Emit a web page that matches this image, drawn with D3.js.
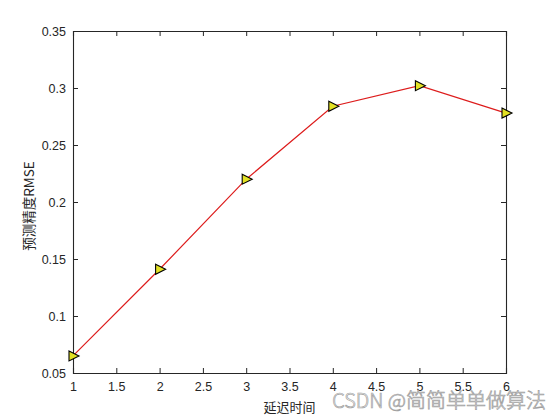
<!DOCTYPE html>
<html>
<head>
<meta charset="utf-8">
<script src="https://cdn.jsdelivr.net/npm/d3@7"></script>
<style>
  body { margin: 0; background: #fff; }
  text { font-family: "Liberation Sans", Arial, sans-serif; }
</style>
</head>
<body>
<div id="chart"></div>
<script>
// data
var delays = [1, 2, 3, 4, 5, 6];
var rmse = [0.065, 0.141, 0.220, 0.284, 0.302, 0.278];
var xTicks = [1, 1.5, 2, 2.5, 3, 3.5, 4, 4.5, 5, 5.5, 6];
var yTicks = [0.05, 0.1, 0.15, 0.2, 0.25, 0.3, 0.35];

var W = 560, H = 420;
var margin = { top: 31, right: 54, bottom: 47, left: 73 },
    width = W - margin.left - margin.right,
    height = H - margin.top - margin.bottom;

var svg = d3.select("#chart").append("svg")
    .attr("width", W)
    .attr("height", H);

var g = svg.append("g")
    .attr("transform", "translate(" + margin.left + "," + margin.top + ")");

var xScale = d3.scaleLinear().domain([1, 6]).range([0, width]);
var yScale = d3.scaleLinear().domain([0.05, 0.35]).range([height, 0]);

// axes, matlab style: ticks inside, box on
var xAxis = d3.axisBottom(xScale).tickValues(xTicks).tickSize(-5).tickPadding(9).tickFormat(d3.format("~g"));
var yAxis = d3.axisLeft(yScale).tickValues(yTicks).tickSize(-5).tickPadding(7).tickFormat(d3.format("~g"));

g.append("g")
    .attr("class", "x axis")
    .attr("transform", "translate(0," + height + ")")
    .call(xAxis);
g.append("g")
    .attr("class", "y axis")
    .call(yAxis);
g.append("g")
    .call(d3.axisTop(xScale).tickValues(xTicks).tickSize(-5).tickFormat(""));
g.append("g")
    .attr("transform", "translate(" + width + ",0)")
    .call(d3.axisRight(yScale).tickValues(yTicks).tickSize(-5).tickFormat(""));

g.selectAll(".domain").attr("stroke", "#262626").attr("stroke-width", 1.1);
g.selectAll(".tick line").attr("stroke", "#262626");
g.selectAll(".tick text").attr("fill", "#262626").style("font-size", "12.5px");

// line
var line = d3.line()
    .x(function (d, i) { return xScale(delays[i]); })
    .y(function (d) { return yScale(d); });

g.append("path")
    .datum(rmse)
    .attr("fill", "none")
    .attr("stroke", "#dd1c1c")
    .attr("stroke-width", 1.2)
    .attr("d", line);

// triangle markers pointing right
g.selectAll(".marker")
    .data(rmse)
    .enter()
    .append("path")
    .attr("class", "marker")
    .attr("d", "M-4,-5 L6,0 L-4,5 Z")
    .attr("transform", function (d, i) { return "translate(" + xScale(delays[i]) + "," + yScale(d) + ")"; })
    .attr("fill", "#e3e124")
    .attr("stroke", "#000")
    .attr("stroke-width", 1.1);

// labels
svg.append("text")
    .attr("x", margin.left + width / 2)
    .attr("y", 412)
    .attr("text-anchor", "middle")
    .attr("fill", "#262626")
    .style("font-family", "'Noto Sans CJK SC', sans-serif")
    .style("font-size", "13px")
    .text("延迟时间");

svg.append("text")
    .attr("transform", "translate(34," + (margin.top + height / 2 + 4) + ") rotate(-90)")
    .attr("text-anchor", "middle")
    .attr("fill", "#262626")
    .style("font-family", "'Noto Sans CJK SC', sans-serif")
    .style("font-size", "13.5px")
    .text("预测精度RMSE");

// watermark
svg.append("text")
    .attr("x", 546)
    .attr("y", 408)
    .attr("text-anchor", "end")
    .attr("fill", "#ffffff")
    .attr("stroke", "#a0a0a0")
    .attr("stroke-width", 0.7)
    .style("font-family", "'Noto Sans CJK SC', sans-serif")
    .style("font-weight", "300")
    .style("font-size", "20px")
    .text("CSDN @简简单单做算法");
</script>
</body>
</html>
